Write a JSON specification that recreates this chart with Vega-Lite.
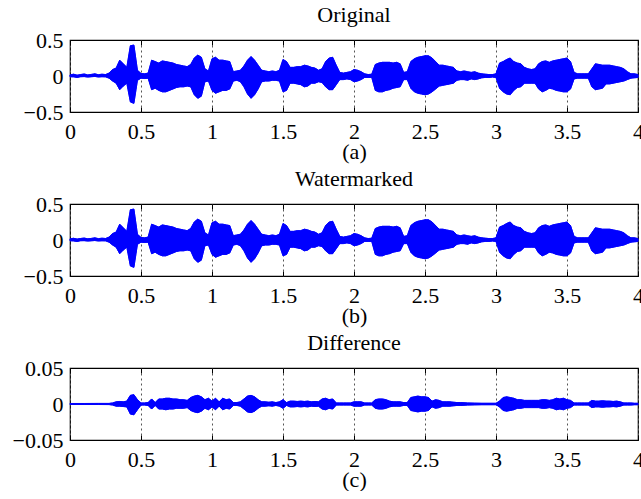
{
"$schema": "https://vega.github.io/schema/vega-lite/v6.json",
"padding": {"left": 11, "top": 3, "right": 0, "bottom": 0},
"datasets": {
"orig": [
{"t":0,"hi":0.015,"lo":-0.01},{"t":0.025,"hi":0.025,"lo":-0.012},{"t":0.05,"hi":0.012,"lo":-0.02},{"t":0.075,"hi":0.02,"lo":-0.01},{"t":0.1,"hi":0.028,"lo":-0.008},{"t":0.125,"hi":0.015,"lo":-0.015},{"t":0.15,"hi":0.022,"lo":-0.01},{"t":0.175,"hi":0.03,"lo":-0.006},{"t":0.2,"hi":0.018,"lo":-0.014},{"t":0.225,"hi":0.025,"lo":-0.01},{"t":0.25,"hi":0.02,"lo":-0.012},{"t":0.275,"hi":0.04,"lo":-0.03},
{"t":0.3,"hi":0.09,"lo":-0.07},{"t":0.325,"hi":0.11,"lo":-0.1},{"t":0.35,"hi":0.22,"lo":-0.19},{"t":0.375,"hi":0.17,"lo":-0.14},{"t":0.4,"hi":0.12,"lo":-0.1},{"t":0.425,"hi":0.42,"lo":-0.36},{"t":0.45,"hi":0.43,"lo":-0.38},{"t":0.475,"hi":0.08,"lo":-0.06},{"t":0.5,"hi":0.035,"lo":-0.03},{"t":0.525,"hi":0.03,"lo":-0.035},{"t":0.55,"hi":0.04,"lo":-0.03},{"t":0.575,"hi":0.22,"lo":-0.19},
{"t":0.6,"hi":0.2,"lo":-0.17},{"t":0.625,"hi":0.18,"lo":-0.2},{"t":0.65,"hi":0.21,"lo":-0.22},{"t":0.675,"hi":0.2,"lo":-0.22},{"t":0.7,"hi":0.19,"lo":-0.2},{"t":0.725,"hi":0.18,"lo":-0.18},{"t":0.75,"hi":0.16,"lo":-0.16},{"t":0.775,"hi":0.15,"lo":-0.15},{"t":0.8,"hi":0.14,"lo":-0.15},{"t":0.825,"hi":0.13,"lo":-0.14},{"t":0.85,"hi":0.16,"lo":-0.15},{"t":0.875,"hi":0.25,"lo":-0.26},
{"t":0.9,"hi":0.29,"lo":-0.31},{"t":0.925,"hi":0.26,"lo":-0.28},{"t":0.95,"hi":0.1,"lo":-0.08},{"t":0.975,"hi":0.07,"lo":-0.07},{"t":1,"hi":0.24,"lo":-0.2},{"t":1.025,"hi":0.26,"lo":-0.24},{"t":1.05,"hi":0.22,"lo":-0.22},{"t":1.075,"hi":0.22,"lo":-0.2},{"t":1.1,"hi":0.21,"lo":-0.2},{"t":1.125,"hi":0.2,"lo":-0.18},{"t":1.15,"hi":0.06,"lo":-0.07},{"t":1.175,"hi":0.07,"lo":-0.06},
{"t":1.2,"hi":0.08,"lo":-0.08},{"t":1.225,"hi":0.14,"lo":-0.15},{"t":1.25,"hi":0.22,"lo":-0.25},{"t":1.275,"hi":0.27,"lo":-0.31},{"t":1.3,"hi":0.22,"lo":-0.26},{"t":1.325,"hi":0.15,"lo":-0.18},{"t":1.35,"hi":0.08,"lo":-0.08},{"t":1.375,"hi":0.07,"lo":-0.07},{"t":1.4,"hi":0.06,"lo":-0.07},{"t":1.425,"hi":0.07,"lo":-0.06},{"t":1.45,"hi":0.06,"lo":-0.06},{"t":1.475,"hi":0.08,"lo":-0.07},
{"t":1.5,"hi":0.23,"lo":-0.22},{"t":1.525,"hi":0.2,"lo":-0.2},{"t":1.55,"hi":0.12,"lo":-0.1},{"t":1.575,"hi":0.12,"lo":-0.1},{"t":1.6,"hi":0.13,"lo":-0.11},{"t":1.625,"hi":0.13,"lo":-0.12},{"t":1.65,"hi":0.15,"lo":-0.15},{"t":1.675,"hi":0.14,"lo":-0.14},{"t":1.7,"hi":0.12,"lo":-0.1},{"t":1.725,"hi":0.11,"lo":-0.1},{"t":1.75,"hi":0.08,"lo":-0.08},{"t":1.775,"hi":0.1,"lo":-0.09},
{"t":1.8,"hi":0.2,"lo":-0.15},{"t":1.825,"hi":0.25,"lo":-0.19},{"t":1.85,"hi":0.26,"lo":-0.19},{"t":1.875,"hi":0.15,"lo":-0.12},{"t":1.9,"hi":0.05,"lo":-0.05},{"t":1.925,"hi":0.04,"lo":-0.05},{"t":1.95,"hi":0.05,"lo":-0.04},{"t":1.975,"hi":0.06,"lo":-0.05},{"t":2,"hi":0.09,"lo":-0.08},{"t":2.025,"hi":0.08,"lo":-0.07},{"t":2.05,"hi":0.06,"lo":-0.05},{"t":2.075,"hi":0.03,"lo":-0.02},
{"t":2.1,"hi":0.02,"lo":-0.02},{"t":2.125,"hi":0.025,"lo":-0.02},{"t":2.15,"hi":0.16,"lo":-0.2},{"t":2.175,"hi":0.18,"lo":-0.22},{"t":2.2,"hi":0.19,"lo":-0.22},{"t":2.225,"hi":0.19,"lo":-0.2},{"t":2.25,"hi":0.19,"lo":-0.19},{"t":2.275,"hi":0.18,"lo":-0.17},{"t":2.3,"hi":0.19,"lo":-0.16},{"t":2.325,"hi":0.17,"lo":-0.15},{"t":2.35,"hi":0.05,"lo":-0.05},{"t":2.375,"hi":0.06,"lo":-0.05},
{"t":2.4,"hi":0.2,"lo":-0.17},{"t":2.425,"hi":0.24,"lo":-0.22},{"t":2.45,"hi":0.26,"lo":-0.24},{"t":2.475,"hi":0.27,"lo":-0.25},{"t":2.5,"hi":0.28,"lo":-0.26},{"t":2.525,"hi":0.28,"lo":-0.25},{"t":2.55,"hi":0.25,"lo":-0.22},{"t":2.575,"hi":0.2,"lo":-0.18},{"t":2.6,"hi":0.15,"lo":-0.14},{"t":2.625,"hi":0.15,"lo":-0.13},{"t":2.65,"hi":0.14,"lo":-0.12},{"t":2.675,"hi":0.13,"lo":-0.11},
{"t":2.7,"hi":0.12,"lo":-0.1},{"t":2.725,"hi":0.07,"lo":-0.06},{"t":2.75,"hi":0.06,"lo":-0.05},{"t":2.775,"hi":0.07,"lo":-0.05},{"t":2.8,"hi":0.06,"lo":-0.06},{"t":2.825,"hi":0.05,"lo":-0.04},{"t":2.85,"hi":0.06,"lo":-0.05},{"t":2.875,"hi":0.04,"lo":-0.04},{"t":2.9,"hi":0.03,"lo":-0.025},{"t":2.925,"hi":0.025,"lo":-0.02},{"t":2.95,"hi":0.02,"lo":-0.02},{"t":2.975,"hi":0.02,"lo":-0.015},
{"t":3,"hi":0.03,"lo":-0.02},{"t":3.025,"hi":0.18,"lo":-0.17},{"t":3.05,"hi":0.2,"lo":-0.22},{"t":3.075,"hi":0.23,"lo":-0.25},{"t":3.1,"hi":0.25,"lo":-0.26},{"t":3.125,"hi":0.2,"lo":-0.2},{"t":3.15,"hi":0.18,"lo":-0.16},{"t":3.175,"hi":0.17,"lo":-0.15},{"t":3.2,"hi":0.12,"lo":-0.1},{"t":3.225,"hi":0.1,"lo":-0.1},{"t":3.25,"hi":0.09,"lo":-0.1},{"t":3.275,"hi":0.1,"lo":-0.1},
{"t":3.3,"hi":0.17,"lo":-0.18},{"t":3.325,"hi":0.2,"lo":-0.22},{"t":3.35,"hi":0.21,"lo":-0.2},{"t":3.375,"hi":0.19,"lo":-0.17},{"t":3.4,"hi":0.21,"lo":-0.18},{"t":3.425,"hi":0.22,"lo":-0.2},{"t":3.45,"hi":0.23,"lo":-0.21},{"t":3.475,"hi":0.24,"lo":-0.22},{"t":3.5,"hi":0.25,"lo":-0.22},{"t":3.525,"hi":0.2,"lo":-0.18},{"t":3.55,"hi":0.05,"lo":-0.04},{"t":3.575,"hi":0.03,"lo":-0.03},
{"t":3.6,"hi":0.03,"lo":-0.03},{"t":3.625,"hi":0.03,"lo":-0.03},{"t":3.65,"hi":0.03,"lo":-0.03},{"t":3.675,"hi":0.1,"lo":-0.15},{"t":3.7,"hi":0.17,"lo":-0.19},{"t":3.725,"hi":0.16,"lo":-0.18},{"t":3.75,"hi":0.15,"lo":-0.17},{"t":3.775,"hi":0.15,"lo":-0.11},{"t":3.8,"hi":0.15,"lo":-0.11},{"t":3.825,"hi":0.14,"lo":-0.1},{"t":3.85,"hi":0.13,"lo":-0.09},{"t":3.875,"hi":0.12,"lo":-0.08},
{"t":3.9,"hi":0.1,"lo":-0.07},{"t":3.925,"hi":0.06,"lo":-0.05},{"t":3.95,"hi":0.03,"lo":-0.03},{"t":3.975,"hi":0.03,"lo":-0.025},{"t":4,"hi":0.02,"lo":-0.02}
],
"wm": [
{"t":0,"hi":0.016,"lo":-0.01},{"t":0.025,"hi":0.024,"lo":-0.013},{"t":0.05,"hi":0.013,"lo":-0.02},{"t":0.075,"hi":0.021,"lo":-0.01},{"t":0.1,"hi":0.027,"lo":-0.009},{"t":0.125,"hi":0.016,"lo":-0.015},{"t":0.15,"hi":0.022,"lo":-0.011},{"t":0.175,"hi":0.03,"lo":-0.007},{"t":0.2,"hi":0.019,"lo":-0.014},{"t":0.225,"hi":0.025,"lo":-0.011},{"t":0.25,"hi":0.021,"lo":-0.012},{"t":0.275,"hi":0.04,"lo":-0.03},
{"t":0.3,"hi":0.09,"lo":-0.07},{"t":0.325,"hi":0.11,"lo":-0.1},{"t":0.35,"hi":0.22,"lo":-0.19},{"t":0.375,"hi":0.17,"lo":-0.14},{"t":0.4,"hi":0.12,"lo":-0.1},{"t":0.425,"hi":0.42,"lo":-0.36},{"t":0.45,"hi":0.43,"lo":-0.38},{"t":0.475,"hi":0.08,"lo":-0.06},{"t":0.5,"hi":0.035,"lo":-0.03},{"t":0.525,"hi":0.03,"lo":-0.035},{"t":0.55,"hi":0.04,"lo":-0.03},{"t":0.575,"hi":0.22,"lo":-0.19},
{"t":0.6,"hi":0.2,"lo":-0.17},{"t":0.625,"hi":0.18,"lo":-0.2},{"t":0.65,"hi":0.21,"lo":-0.22},{"t":0.675,"hi":0.2,"lo":-0.22},{"t":0.7,"hi":0.19,"lo":-0.2},{"t":0.725,"hi":0.18,"lo":-0.18},{"t":0.75,"hi":0.16,"lo":-0.16},{"t":0.775,"hi":0.15,"lo":-0.15},{"t":0.8,"hi":0.14,"lo":-0.15},{"t":0.825,"hi":0.13,"lo":-0.14},{"t":0.85,"hi":0.16,"lo":-0.15},{"t":0.875,"hi":0.25,"lo":-0.26},
{"t":0.9,"hi":0.29,"lo":-0.31},{"t":0.925,"hi":0.26,"lo":-0.28},{"t":0.95,"hi":0.1,"lo":-0.08},{"t":0.975,"hi":0.07,"lo":-0.07},{"t":1,"hi":0.24,"lo":-0.2},{"t":1.025,"hi":0.26,"lo":-0.24},{"t":1.05,"hi":0.22,"lo":-0.22},{"t":1.075,"hi":0.22,"lo":-0.2},{"t":1.1,"hi":0.21,"lo":-0.2},{"t":1.125,"hi":0.2,"lo":-0.18},{"t":1.15,"hi":0.06,"lo":-0.07},{"t":1.175,"hi":0.07,"lo":-0.06},
{"t":1.2,"hi":0.08,"lo":-0.08},{"t":1.225,"hi":0.14,"lo":-0.15},{"t":1.25,"hi":0.22,"lo":-0.25},{"t":1.275,"hi":0.27,"lo":-0.31},{"t":1.3,"hi":0.22,"lo":-0.26},{"t":1.325,"hi":0.15,"lo":-0.18},{"t":1.35,"hi":0.08,"lo":-0.08},{"t":1.375,"hi":0.07,"lo":-0.07},{"t":1.4,"hi":0.06,"lo":-0.07},{"t":1.425,"hi":0.07,"lo":-0.06},{"t":1.45,"hi":0.06,"lo":-0.06},{"t":1.475,"hi":0.08,"lo":-0.07},
{"t":1.5,"hi":0.23,"lo":-0.22},{"t":1.525,"hi":0.2,"lo":-0.2},{"t":1.55,"hi":0.12,"lo":-0.1},{"t":1.575,"hi":0.12,"lo":-0.1},{"t":1.6,"hi":0.13,"lo":-0.11},{"t":1.625,"hi":0.13,"lo":-0.12},{"t":1.65,"hi":0.15,"lo":-0.15},{"t":1.675,"hi":0.14,"lo":-0.14},{"t":1.7,"hi":0.12,"lo":-0.1},{"t":1.725,"hi":0.11,"lo":-0.1},{"t":1.75,"hi":0.08,"lo":-0.08},{"t":1.775,"hi":0.1,"lo":-0.09},
{"t":1.8,"hi":0.2,"lo":-0.15},{"t":1.825,"hi":0.25,"lo":-0.19},{"t":1.85,"hi":0.26,"lo":-0.19},{"t":1.875,"hi":0.15,"lo":-0.12},{"t":1.9,"hi":0.05,"lo":-0.05},{"t":1.925,"hi":0.04,"lo":-0.05},{"t":1.95,"hi":0.05,"lo":-0.04},{"t":1.975,"hi":0.06,"lo":-0.05},{"t":2,"hi":0.09,"lo":-0.08},{"t":2.025,"hi":0.08,"lo":-0.07},{"t":2.05,"hi":0.06,"lo":-0.05},{"t":2.075,"hi":0.03,"lo":-0.02},
{"t":2.1,"hi":0.02,"lo":-0.02},{"t":2.125,"hi":0.025,"lo":-0.02},{"t":2.15,"hi":0.16,"lo":-0.2},{"t":2.175,"hi":0.18,"lo":-0.22},{"t":2.2,"hi":0.19,"lo":-0.22},{"t":2.225,"hi":0.19,"lo":-0.2},{"t":2.25,"hi":0.19,"lo":-0.19},{"t":2.275,"hi":0.18,"lo":-0.17},{"t":2.3,"hi":0.19,"lo":-0.16},{"t":2.325,"hi":0.17,"lo":-0.15},{"t":2.35,"hi":0.05,"lo":-0.05},{"t":2.375,"hi":0.06,"lo":-0.05},
{"t":2.4,"hi":0.2,"lo":-0.17},{"t":2.425,"hi":0.24,"lo":-0.22},{"t":2.45,"hi":0.26,"lo":-0.24},{"t":2.475,"hi":0.27,"lo":-0.25},{"t":2.5,"hi":0.28,"lo":-0.26},{"t":2.525,"hi":0.28,"lo":-0.25},{"t":2.55,"hi":0.25,"lo":-0.22},{"t":2.575,"hi":0.2,"lo":-0.18},{"t":2.6,"hi":0.15,"lo":-0.14},{"t":2.625,"hi":0.15,"lo":-0.13},{"t":2.65,"hi":0.14,"lo":-0.12},{"t":2.675,"hi":0.13,"lo":-0.11},
{"t":2.7,"hi":0.12,"lo":-0.1},{"t":2.725,"hi":0.07,"lo":-0.06},{"t":2.75,"hi":0.06,"lo":-0.05},{"t":2.775,"hi":0.07,"lo":-0.05},{"t":2.8,"hi":0.06,"lo":-0.06},{"t":2.825,"hi":0.05,"lo":-0.04},{"t":2.85,"hi":0.06,"lo":-0.05},{"t":2.875,"hi":0.04,"lo":-0.04},{"t":2.9,"hi":0.03,"lo":-0.025},{"t":2.925,"hi":0.025,"lo":-0.02},{"t":2.95,"hi":0.02,"lo":-0.02},{"t":2.975,"hi":0.02,"lo":-0.015},
{"t":3,"hi":0.03,"lo":-0.02},{"t":3.025,"hi":0.18,"lo":-0.17},{"t":3.05,"hi":0.2,"lo":-0.22},{"t":3.075,"hi":0.23,"lo":-0.25},{"t":3.1,"hi":0.25,"lo":-0.26},{"t":3.125,"hi":0.2,"lo":-0.2},{"t":3.15,"hi":0.18,"lo":-0.16},{"t":3.175,"hi":0.17,"lo":-0.15},{"t":3.2,"hi":0.12,"lo":-0.1},{"t":3.225,"hi":0.1,"lo":-0.1},{"t":3.25,"hi":0.09,"lo":-0.1},{"t":3.275,"hi":0.1,"lo":-0.1},
{"t":3.3,"hi":0.17,"lo":-0.18},{"t":3.325,"hi":0.2,"lo":-0.22},{"t":3.35,"hi":0.21,"lo":-0.2},{"t":3.375,"hi":0.19,"lo":-0.17},{"t":3.4,"hi":0.21,"lo":-0.18},{"t":3.425,"hi":0.22,"lo":-0.2},{"t":3.45,"hi":0.23,"lo":-0.21},{"t":3.475,"hi":0.24,"lo":-0.22},{"t":3.5,"hi":0.25,"lo":-0.22},{"t":3.525,"hi":0.2,"lo":-0.18},{"t":3.55,"hi":0.05,"lo":-0.04},{"t":3.575,"hi":0.03,"lo":-0.03},
{"t":3.6,"hi":0.03,"lo":-0.03},{"t":3.625,"hi":0.03,"lo":-0.03},{"t":3.65,"hi":0.03,"lo":-0.03},{"t":3.675,"hi":0.1,"lo":-0.15},{"t":3.7,"hi":0.17,"lo":-0.19},{"t":3.725,"hi":0.16,"lo":-0.18},{"t":3.75,"hi":0.15,"lo":-0.17},{"t":3.775,"hi":0.15,"lo":-0.11},{"t":3.8,"hi":0.15,"lo":-0.11},{"t":3.825,"hi":0.14,"lo":-0.1},{"t":3.85,"hi":0.13,"lo":-0.09},{"t":3.875,"hi":0.12,"lo":-0.08},
{"t":3.9,"hi":0.1,"lo":-0.07},{"t":3.925,"hi":0.06,"lo":-0.05},{"t":3.95,"hi":0.03,"lo":-0.03},{"t":3.975,"hi":0.03,"lo":-0.025},{"t":4,"hi":0.02,"lo":-0.02}
],
"diff": [
{"t":0,"hi":0.0007,"lo":-0.0007},{"t":0.1,"hi":0.0007,"lo":-0.0007},{"t":0.2,"hi":0.0008,"lo":-0.0007},{"t":0.275,"hi":0.0008,"lo":-0.0008},{"t":0.3,"hi":0.0015,"lo":-0.0015},{"t":0.325,"hi":0.003,"lo":-0.003},{"t":0.35,"hi":0.0035,"lo":-0.003},{"t":0.375,"hi":0.003,"lo":-0.0035},{"t":0.4,"hi":0.004,"lo":-0.004},{"t":0.425,"hi":0.012,"lo":-0.014},{"t":0.45,"hi":0.013,"lo":-0.015},{"t":0.475,"hi":0.006,"lo":-0.008},
{"t":0.5,"hi":0.0015,"lo":-0.0015},{"t":0.525,"hi":0.0015,"lo":-0.0015},{"t":0.55,"hi":0.002,"lo":-0.002},{"t":0.575,"hi":0.007,"lo":-0.007},{"t":0.6,"hi":0.002,"lo":-0.002},{"t":0.625,"hi":0.007,"lo":-0.007},{"t":0.65,"hi":0.007,"lo":-0.007},{"t":0.675,"hi":0.008,"lo":-0.008},{"t":0.7,"hi":0.008,"lo":-0.007},{"t":0.725,"hi":0.007,"lo":-0.007},{"t":0.75,"hi":0.007,"lo":-0.006},{"t":0.775,"hi":0.006,"lo":-0.006},
{"t":0.8,"hi":0.006,"lo":-0.006},{"t":0.825,"hi":0.005,"lo":-0.005},{"t":0.85,"hi":0.009,"lo":-0.009},{"t":0.875,"hi":0.011,"lo":-0.011},{"t":0.9,"hi":0.012,"lo":-0.012},{"t":0.925,"hi":0.01,"lo":-0.01},{"t":0.95,"hi":0.006,"lo":-0.006},{"t":0.975,"hi":0.008,"lo":-0.008},{"t":1,"hi":0.004,"lo":-0.004},{"t":1.025,"hi":0.008,"lo":-0.008},{"t":1.05,"hi":0.003,"lo":-0.003},{"t":1.075,"hi":0.008,"lo":-0.008},
{"t":1.1,"hi":0.006,"lo":-0.006},{"t":1.125,"hi":0.007,"lo":-0.007},{"t":1.15,"hi":0.002,"lo":-0.002},{"t":1.175,"hi":0.002,"lo":-0.002},{"t":1.2,"hi":0.003,"lo":-0.003},{"t":1.225,"hi":0.007,"lo":-0.007},{"t":1.25,"hi":0.011,"lo":-0.011},{"t":1.275,"hi":0.012,"lo":-0.012},{"t":1.3,"hi":0.01,"lo":-0.01},{"t":1.325,"hi":0.006,"lo":-0.006},{"t":1.35,"hi":0.003,"lo":-0.003},{"t":1.375,"hi":0.003,"lo":-0.003},
{"t":1.4,"hi":0.0025,"lo":-0.0025},{"t":1.425,"hi":0.003,"lo":-0.003},{"t":1.45,"hi":0.002,"lo":-0.002},{"t":1.475,"hi":0.003,"lo":-0.003},{"t":1.5,"hi":0.006,"lo":-0.006},{"t":1.525,"hi":0.002,"lo":-0.002},{"t":1.55,"hi":0.004,"lo":-0.004},{"t":1.575,"hi":0.004,"lo":-0.004},{"t":1.6,"hi":0.0035,"lo":-0.0035},{"t":1.625,"hi":0.004,"lo":-0.004},{"t":1.65,"hi":0.0035,"lo":-0.0035},{"t":1.675,"hi":0.004,"lo":-0.004},
{"t":1.7,"hi":0.003,"lo":-0.003},{"t":1.725,"hi":0.0035,"lo":-0.0035},{"t":1.75,"hi":0.003,"lo":-0.003},{"t":1.775,"hi":0.007,"lo":-0.007},{"t":1.8,"hi":0.008,"lo":-0.008},{"t":1.825,"hi":0.006,"lo":-0.006},{"t":1.85,"hi":0.007,"lo":-0.007},{"t":1.875,"hi":0.0015,"lo":-0.0015},{"t":1.9,"hi":0.0015,"lo":-0.0015},{"t":1.925,"hi":0.0015,"lo":-0.0015},{"t":1.95,"hi":0.0015,"lo":-0.0015},{"t":1.975,"hi":0.0015,"lo":-0.0015},
{"t":2,"hi":0.003,"lo":-0.003},{"t":2.025,"hi":0.003,"lo":-0.003},{"t":2.05,"hi":0.003,"lo":-0.003},{"t":2.075,"hi":0.0015,"lo":-0.0015},{"t":2.1,"hi":0.0015,"lo":-0.0015},{"t":2.125,"hi":0.0015,"lo":-0.0015},{"t":2.15,"hi":0.006,"lo":-0.006},{"t":2.175,"hi":0.007,"lo":-0.007},{"t":2.2,"hi":0.007,"lo":-0.007},{"t":2.225,"hi":0.006,"lo":-0.006},{"t":2.25,"hi":0.004,"lo":-0.004},{"t":2.275,"hi":0.003,"lo":-0.003},
{"t":2.3,"hi":0.003,"lo":-0.003},{"t":2.325,"hi":0.003,"lo":-0.003},{"t":2.35,"hi":0.002,"lo":-0.002},{"t":2.375,"hi":0.002,"lo":-0.002},{"t":2.4,"hi":0.009,"lo":-0.009},{"t":2.425,"hi":0.01,"lo":-0.01},{"t":2.45,"hi":0.011,"lo":-0.011},{"t":2.475,"hi":0.01,"lo":-0.01},{"t":2.5,"hi":0.01,"lo":-0.01},{"t":2.525,"hi":0.009,"lo":-0.009},{"t":2.55,"hi":0.004,"lo":-0.004},{"t":2.575,"hi":0.006,"lo":-0.006},
{"t":2.6,"hi":0.005,"lo":-0.005},{"t":2.625,"hi":0.003,"lo":-0.003},{"t":2.65,"hi":0.003,"lo":-0.003},{"t":2.675,"hi":0.003,"lo":-0.003},{"t":2.7,"hi":0.0025,"lo":-0.0025},{"t":2.725,"hi":0.002,"lo":-0.002},{"t":2.75,"hi":0.002,"lo":-0.002},{"t":2.8,"hi":0.0015,"lo":-0.0015},{"t":2.85,"hi":0.0012,"lo":-0.0012},{"t":2.9,"hi":0.001,"lo":-0.001},{"t":2.95,"hi":0.001,"lo":-0.001},{"t":3,"hi":0.001,"lo":-0.001},
{"t":3.025,"hi":0.004,"lo":-0.004},{"t":3.05,"hi":0.009,"lo":-0.009},{"t":3.075,"hi":0.01,"lo":-0.01},{"t":3.1,"hi":0.009,"lo":-0.009},{"t":3.125,"hi":0.008,"lo":-0.008},{"t":3.15,"hi":0.006,"lo":-0.006},{"t":3.175,"hi":0.006,"lo":-0.006},{"t":3.2,"hi":0.005,"lo":-0.005},{"t":3.225,"hi":0.005,"lo":-0.005},{"t":3.25,"hi":0.005,"lo":-0.005},{"t":3.275,"hi":0.005,"lo":-0.005},{"t":3.3,"hi":0.005,"lo":-0.005},
{"t":3.325,"hi":0.006,"lo":-0.006},{"t":3.35,"hi":0.006,"lo":-0.006},{"t":3.375,"hi":0.005,"lo":-0.005},{"t":3.4,"hi":0.006,"lo":-0.006},{"t":3.425,"hi":0.008,"lo":-0.008},{"t":3.45,"hi":0.007,"lo":-0.007},{"t":3.475,"hi":0.008,"lo":-0.008},{"t":3.5,"hi":0.006,"lo":-0.006},{"t":3.525,"hi":0.005,"lo":-0.005},{"t":3.55,"hi":0.0015,"lo":-0.0015},{"t":3.575,"hi":0.0015,"lo":-0.0015},{"t":3.6,"hi":0.0015,"lo":-0.0015},
{"t":3.625,"hi":0.0015,"lo":-0.0015},{"t":3.65,"hi":0.0015,"lo":-0.0015},{"t":3.675,"hi":0.005,"lo":-0.005},{"t":3.7,"hi":0.004,"lo":-0.004},{"t":3.725,"hi":0.004,"lo":-0.004},{"t":3.75,"hi":0.0045,"lo":-0.0045},{"t":3.775,"hi":0.004,"lo":-0.004},{"t":3.8,"hi":0.004,"lo":-0.004},{"t":3.825,"hi":0.0035,"lo":-0.0035},{"t":3.85,"hi":0.004,"lo":-0.004},{"t":3.875,"hi":0.003,"lo":-0.003},{"t":3.9,"hi":0.0015,"lo":-0.0015},
{"t":3.925,"hi":0.0015,"lo":-0.0015},{"t":3.95,"hi":0.0015,"lo":-0.0015},{"t":3.975,"hi":0.001,"lo":-0.001},{"t":4,"hi":0.001,"lo":-0.001}
]
},
"vconcat": [
{
"width": 568, "height": 72,
"title": "Original",
"data": {"name": "orig"},
"layer": [
{"mark": {"type": "area", "color": "#0000ff", "stroke": "#0000ff", "strokeWidth": 0.8},
"encoding": {
"x": {"field": "t", "type": "quantitative", "scale": {"domain": [0, 4], "nice": false}, "axis": {"values": [0, 0.5, 1, 1.5, 2, 2.5, 3, 3.5, 4], "title": "(a)"}},
"y": {"field": "hi", "type": "quantitative", "scale": {"domain": [-0.5, 0.5], "nice": false}, "axis": {"values": [-0.5, 0, 0.5], "title": null}},
"y2": {"field": "lo"}}},
{"mark": {"type": "area", "color": "#0000ff", "stroke": "#0000ff", "strokeWidth": 0.8},
"encoding": {
"x": {"field": "t", "type": "quantitative", "axis": {"orient": "top", "values": [0, 0.5, 1, 1.5, 2, 2.5, 3, 3.5, 4], "labels": false, "grid": false, "title": null}},
"y": {"field": "hi", "type": "quantitative", "axis": {"orient": "right", "values": [-0.5, 0, 0.5], "labels": false, "title": null}},
"y2": {"field": "lo"}}}
],
"resolve": {"axis": {"x": "independent", "y": "independent"}}
},
{
"width": 568, "height": 72,
"title": "Watermarked",
"data": {"name": "wm"},
"layer": [
{"mark": {"type": "area", "color": "#0000ff", "stroke": "#0000ff", "strokeWidth": 0.8},
"encoding": {
"x": {"field": "t", "type": "quantitative", "scale": {"domain": [0, 4], "nice": false}, "axis": {"values": [0, 0.5, 1, 1.5, 2, 2.5, 3, 3.5, 4], "title": "(b)"}},
"y": {"field": "hi", "type": "quantitative", "scale": {"domain": [-0.5, 0.5], "nice": false}, "axis": {"values": [-0.5, 0, 0.5], "title": null}},
"y2": {"field": "lo"}}},
{"mark": {"type": "area", "color": "#0000ff", "stroke": "#0000ff", "strokeWidth": 0.8},
"encoding": {
"x": {"field": "t", "type": "quantitative", "axis": {"orient": "top", "values": [0, 0.5, 1, 1.5, 2, 2.5, 3, 3.5, 4], "labels": false, "grid": false, "title": null}},
"y": {"field": "hi", "type": "quantitative", "axis": {"orient": "right", "values": [-0.5, 0, 0.5], "labels": false, "title": null}},
"y2": {"field": "lo"}}}
],
"resolve": {"axis": {"x": "independent", "y": "independent"}}
},
{
"width": 568, "height": 72,
"title": "Difference",
"data": {"name": "diff"},
"layer": [
{"mark": {"type": "area", "color": "#0000ff", "stroke": "#0000ff", "strokeWidth": 0.8},
"encoding": {
"x": {"field": "t", "type": "quantitative", "scale": {"domain": [0, 4], "nice": false}, "axis": {"values": [0, 0.5, 1, 1.5, 2, 2.5, 3, 3.5, 4], "title": "(c)"}},
"y": {"field": "hi", "type": "quantitative", "scale": {"domain": [-0.05, 0.05], "nice": false}, "axis": {"values": [-0.05, 0, 0.05], "title": null}},
"y2": {"field": "lo"}}},
{"mark": {"type": "area", "color": "#0000ff", "stroke": "#0000ff", "strokeWidth": 0.8},
"encoding": {
"x": {"field": "t", "type": "quantitative", "axis": {"orient": "top", "values": [0, 0.5, 1, 1.5, 2, 2.5, 3, 3.5, 4], "labels": false, "grid": false, "title": null}},
"y": {"field": "hi", "type": "quantitative", "axis": {"orient": "right", "values": [-0.05, 0, 0.05], "labels": false, "title": null}},
"y2": {"field": "lo"}}}
],
"resolve": {"axis": {"x": "independent", "y": "independent"}}
}
],
"spacing": 92,
"bounds": "flush",
"config": {
"font": "Liberation Serif",
"view": {"stroke": "#000000", "strokeWidth": 1.2},
"title": {"font": "Liberation Serif", "fontSize": 22, "fontWeight": "normal", "color": "#000000", "offset": 2},
"axis": {
"format": "~g",
"labelFont": "Liberation Serif", "labelFontSize": 22, "labelColor": "#000000",
"titleFont": "Liberation Serif", "titleFontSize": 22, "titleFontWeight": "normal", "titleColor": "#000000",
"domain": false, "tickColor": "#000000", "tickSize": -5,
"grid": false
},
"axisX": {"grid": true, "gridDash": [2, 3], "gridColor": "#555555", "gridWidth": 1, "titlePadding": -1, "labelFlush": false, "labelPadding": 14},
"axisY": {"labelPadding": 12}
}
}
